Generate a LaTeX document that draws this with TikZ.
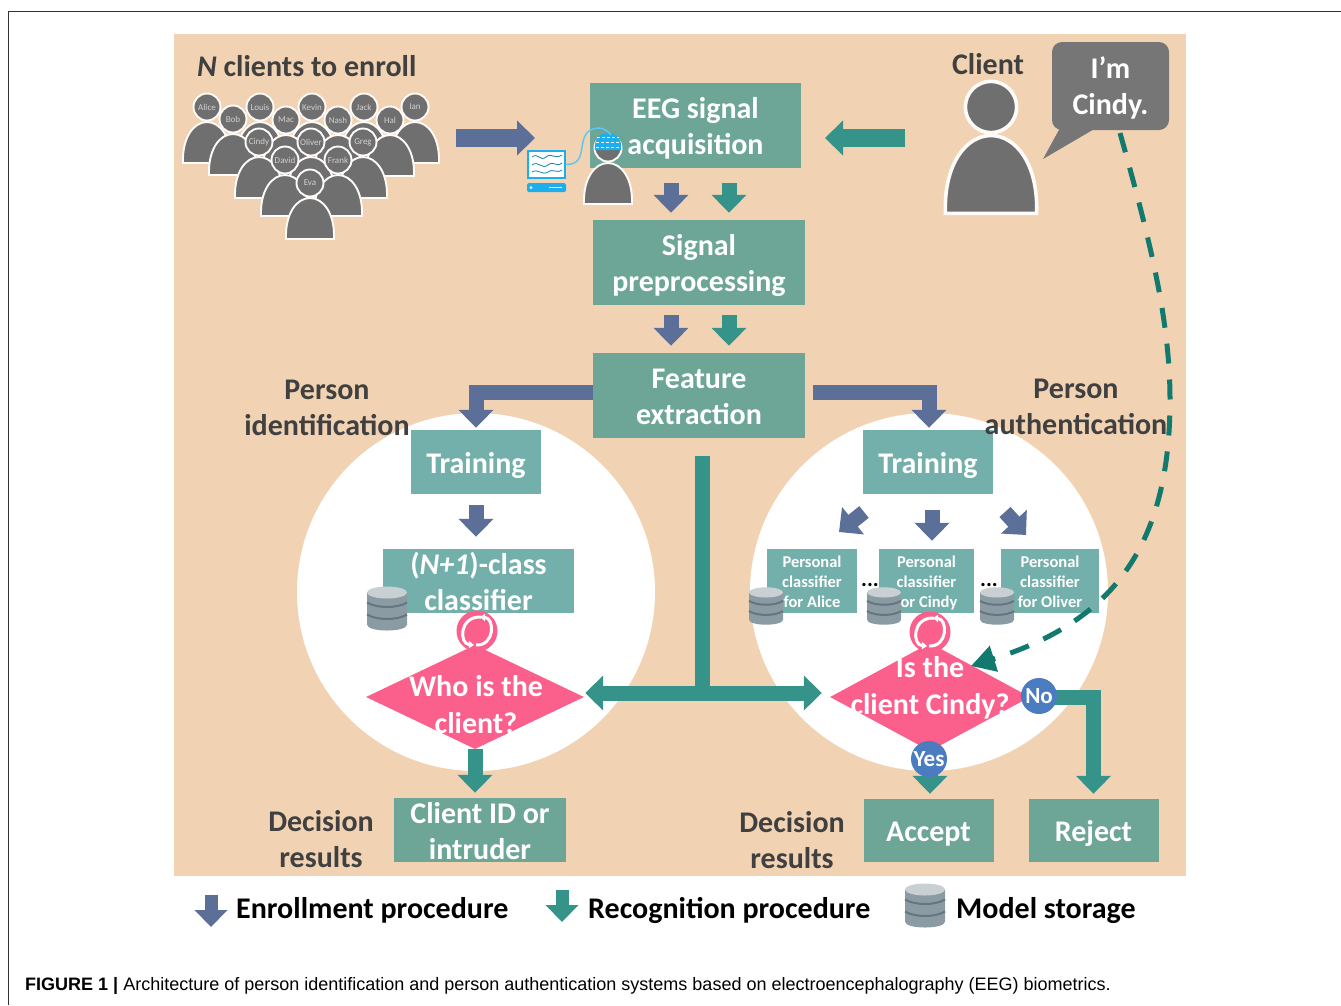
\documentclass[tikz,border=0pt]{standalone}
\usepackage{fontspec}
\usepackage{xcolor}
\setmainfont{Carlito}
\newfontfamily\capfont{Liberation Sans}
\usetikzlibrary{arrows.meta,shapes.geometric}

\definecolor{sandbg}{HTML}{F1D3B3}
\definecolor{upperbox}{HTML}{6DA697}
\definecolor{lowerbox}{HTML}{74B0AB}
\definecolor{enrollblue}{HTML}{5B6F99}
\definecolor{recogteal}{HTML}{35938A}
\definecolor{dashteal}{HTML}{12796E}
\definecolor{personfill}{HTML}{6F6F6F}
\definecolor{labelgray}{HTML}{404040}
\definecolor{decpink}{HTML}{FB5F8C}
\definecolor{dotblue}{HTML}{4A7CBF}
\definecolor{scrblue}{HTML}{1CAFEB}
\definecolor{dbbody}{HTML}{8A9BA3}
\definecolor{dbtop}{HTML}{C9D0D4}
\definecolor{dbband}{HTML}{66767E}

\tikzset{
  stepbox/.style={text=white,inner sep=0,align=center,font=\bfseries\fontsize{30}{36}\selectfont},
  oneline/.style={execute at begin node={\rule{0pt}{28pt}},execute at end node={\rule[-6pt]{0pt}{6pt}}},
  upperstep/.style={stepbox,fill=upperbox},
  lowerstep/.style={stepbox,fill=lowerbox},
  personalstep/.style={fill=lowerbox,text=white,inner sep=0,align=center,minimum width=90,minimum height=64,font=\bfseries\fontsize{16.5}{20}\selectfont},
  grouplabel/.style={text=labelgray,align=center,inner sep=0,font=\bfseries\fontsize{30}{36}\selectfont},
  decision/.style={diamond,fill=decpink,inner sep=0},
  decisiontext/.style={text=white,align=center,inner sep=0,font=\bfseries\fontsize{30}{37}\selectfont},
  answerdot/.style={circle,fill=dotblue,text=white,inner sep=0,minimum size=36,font=\bfseries\fontsize{23}{24}\selectfont},
  personbody/.style={fill=personfill,draw=white!92!sandbg},
  personhead/.style={circle,fill=personfill,draw=white!92!sandbg,inner sep=0,text=white!82!black,font=\fontsize{9}{9}\selectfont},
  enrollarrow/.style={draw=enrollblue,line width=15,-{Triangle[length=18pt,width=34pt]}},
  recogarrow/.style={draw=recogteal,line width=15,-{Triangle[length=18pt,width=34pt]}},
  legendtext/.style={text=black,inner sep=0,anchor=west,font=\bfseries\fontsize{30}{34}\selectfont}
}

\newcommand{\twolines}[2]{\rule{0pt}{28pt}#1\\#2\rule[-6pt]{0pt}{6pt}}
\newcommand{\threelines}[3]{\rule{0pt}{17pt}#1\\#2\\#3\rule[-4pt]{0pt}{4pt}}

\newcommand{\clientfig}[5]{%
\begin{scope}[shift={(#2,#3)},scale=#4]
\draw[personbody,line width=#4*1.9] (-24,56) .. controls (-25,30) and (-13,15) .. (0,15) .. controls (13,15) and (25,30) .. (24,56) -- cycle ;
\node[personhead,line width=#4*1.9,minimum size=#4*27] (#1) at (0,0) {#5};
\end{scope}}

\newcommand{\modelstore}[4]{%
\begin{scope}[shift={(#2,#3)},scale=#4]
\coordinate (#1) at (0,0);
\fill[dbbody] (-20,-16) -- (-20,16) .. controls (-20,24) and (20,24) .. (20,16) -- (20,-16) -- cycle ;
\draw[dbband,line width=2] (-20,-6) .. controls (-10,0) and (10,0) .. (20,-6) ;
\draw[dbband,line width=2] (-20,6) .. controls (-10,12) and (10,12) .. (20,6) ;
\fill[dbtop] (0,-16) ellipse [x radius=20,y radius=6] ;
\end{scope}}

\newcommand{\refreshloop}[3]{%
\node[circle,fill=decpink,inner sep=0,minimum size=41] (#1) at (#2,#3) {};
\begin{scope}[shift={(#2,#3)}]
\draw[white,line width=3,-{Triangle[length=5pt,width=7pt]}] (4,-14) .. controls (-18,-15) and (-18,13) .. (-3,14) ;
\draw[white,line width=3,-{Triangle[length=5pt,width=7pt]}] (-1,14) .. controls (18,15) and (18,-13) .. (3,-14) ;
\end{scope}}

\begin{document}
\begin{tikzpicture}[x=1pt,y=1pt,yscale=-1,xscale=1]

\useasboundingbox (0,0) rectangle (1341,1005);
\fill[white] (0,0) rectangle (1341,1005);
\draw[line width=1,black!80] (8,1005) -- (8,11) -- (1341,11) ;
\fill[sandbg] (174,34) rectangle (1186,876);
\fill[white] (476,592) circle [radius=179];
\fill[white] (929,592) circle [radius=179];

\node[grouplabel,anchor=west] (enrolltitle) at (197,66) {\textit{N} clients to enroll};
\clientfig{alice}{207}{107}{1}{Alice}
\clientfig{louis}{260}{107}{1}{Louis}
\clientfig{kevin}{312}{107}{1}{Kevin}
\clientfig{jack}{364}{107}{1}{Jack}
\clientfig{ian}{415}{107}{1}{Ian}
\clientfig{bob}{233}{119}{1}{Bob}
\clientfig{mac}{286}{120}{1}{Mac}
\clientfig{nash}{338}{120}{1}{Nash}
\clientfig{hal}{390}{120}{1}{Hal}
\clientfig{cindy}{259}{142}{1}{Cindy}
\clientfig{oliver}{311}{142}{1}{Oliver}
\clientfig{greg}{363}{142}{1}{Greg}
\clientfig{david}{285}{160}{1}{David}
\clientfig{frank}{338}{160}{1}{Frank}
\clientfig{eva}{310}{183}{1}{Eva}

\node[upperstep,minimum width=211,minimum height=85] (eegbox) at (695.5,125.5) {\twolines{EEG signal}{acquisition}};
\node[upperstep,minimum width=212,minimum height=85] (prepbox) at (699,262.5) {\twolines{Signal}{preprocessing}};
\node[upperstep,minimum width=212,minimum height=85] (featbox) at (699,395.5) {\twolines{Feature}{extraction}};
\node[lowerstep,oneline,minimum width=130,minimum height=64] (trainleft) at (476,462) {Training};
\node[lowerstep,oneline,minimum width=130,minimum height=64] (trainright) at (928,462) {Training};
\node[lowerstep,inner ysep=-3,minimum width=191,minimum height=64] (classleft) at (478.5,581) {\twolines{(\textit{N+1})-class}{classifier}};
\node[personalstep] (persalice) at (812,581) {\threelines{Personal}{classifier}{for Alice}};
\node[personalstep,minimum width=95] (perscindy) at (926.5,581) {\threelines{Personal}{classifier}{for Cindy}};
\node[personalstep,minimum width=98] (persoliver) at (1050,581) {\threelines{Personal}{classifier}{for Oliver}};
\node[upperstep,inner ysep=-3,minimum width=172,minimum height=64] (outleft) at (480,830) {\twolines{Client ID or}{intruder}};
\node[upperstep,oneline,minimum width=130,minimum height=63] (accept) at (928.5,830.5) {Accept};
\node[upperstep,oneline,minimum width=130,minimum height=63] (reject) at (1093.5,830.5) {Reject};

\node[grouplabel] (idlabel) at (327,408) {Person\\identification};
\node[grouplabel] (authlabel) at (1076,407) {Person\\authentication};
\node[grouplabel] (decleft) at (321,839) {Decision\\results};
\node[grouplabel] (decright) at (792,840) {Decision\\results};
\node[grouplabel] (clientlabel) at (988,64) {Client};

\clientfig{bigclient}{991}{107}{1.9}{}
\clientfig{capclient}{608}{148}{1}{}

\fill[scrblue] (595,150) .. controls (592,127) and (624,127) .. (621,150) -- cycle ;
\draw[white,line width=1,dash pattern=on 3pt off 2pt] (597,137) -- (619,137) ;
\draw[white,line width=1,dash pattern=on 3pt off 2pt] (596,142) -- (620,142) ;
\draw[white,line width=1,dash pattern=on 3pt off 2pt] (596,147) -- (620,147) ;

\node[draw=scrblue,fill=white,line width=2.5,minimum width=37,minimum height=27,inner sep=0] (screen) at (546.5,164.5) {};
\node[fill=scrblue,rounded corners=1.5,minimum width=39,minimum height=9,inner sep=0] (scrbase) at (546.5,187.5) {};
\fill[white] (531,187.5) circle [radius=1.5];
\draw[white,line width=1.2] (549,187.5) -- (562,187.5) ;
\draw[scrblue!75!black,line width=0.8] (532,157) .. controls (538,152) and (540,162) .. (546,157) .. controls (552,152) and (554,160) .. (562,155) ;
\draw[scrblue!75!black,line width=0.8] (532,165) .. controls (538,160) and (542,170) .. (548,165) .. controls (554,160) and (556,168) .. (562,163) ;
\draw[scrblue!75!black,line width=0.8] (532,172) .. controls (538,168) and (542,176) .. (548,172) .. controls (554,168) and (556,174) .. (562,170) ;
\draw[scrblue!70!white,line width=1.5] (screen.east) .. controls (592,165) and (572,130) .. (598,128) .. controls (604,128) and (608,131) .. (611,135) ;

\coordinate (crowdend) at (535,138);
\coordinate (crowdstart) at (456,138);
\coordinate (clientstart) at (905,138);
\coordinate (clientend) at (825,138);
\draw[enrollarrow,line width=18] (crowdstart) -- (crowdend) ;
\draw[recogarrow,line width=18] (clientstart) -- (clientend) ;

\draw[enrollarrow,shorten <=15,shorten >=7] ([xshift=-24.5]eegbox.south) -- ([xshift=-28]prepbox.north) ;
\draw[recogarrow,shorten <=15,shorten >=7] ([xshift=33.5]eegbox.south) -- ([xshift=30]prepbox.north) ;
\draw[enrollarrow,shorten <=10,shorten >=7] ([xshift=-28]prepbox.south) -- ([xshift=-28]featbox.north) ;
\draw[recogarrow,shorten <=10,shorten >=7] ([xshift=30]prepbox.south) -- ([xshift=30]featbox.north) ;

\draw[enrollarrow,shorten >=2] ([yshift=-3.5]featbox.west) -| (trainleft.north) ;
\draw[enrollarrow,shorten <=8,shorten >=2] ([yshift=-3.5]featbox.east) -| ([xshift=1]trainright.north) ;
\draw[enrollarrow,shorten <=11,shorten >=12] (trainleft.south) -- (trainleft.south |- classleft.north) ;

\coordinate (splitalice) at (864,512);
\coordinate (tipalice) at (839,532);
\coordinate (splitoliver) at (1005,512);
\coordinate (tipoliver) at (1026,535);
\draw[enrollarrow] (splitalice) -- (tipalice) ;
\draw[enrollarrow] (splitoliver) -- (tipoliver) ;
\draw[enrollarrow,shorten <=16,shorten >=8] ([xshift=4]trainright.south) -- ([xshift=4]trainright.south |- perscindy.north) ;

\node[decision,minimum width=218,minimum height=104] (whodec) at (475,697) {};
\node[decision,minimum width=200,minimum height=108] (isdec) at (930,697) {};
\refreshloop{loopleft}{477}{631}
\refreshloop{loopright}{930}{632}
\node[decisiontext] (whotext) at (476,705) {Who is the\\client?};
\node[decisiontext] (istext) at (930,687.5) {Is the\\client Cindy?};

\coordinate (teejoin) at (702,693);
\draw[recogarrow,-,shorten <=18] ([xshift=3]featbox.south) -- (teejoin) ;
\draw[recogarrow,shorten >=1] (teejoin) -- (whodec.east |- teejoin) ;
\draw[recogarrow,shorten >=8] (teejoin) -- (isdec.west |- teejoin) ;
\draw[recogarrow,shorten >=5] (whodec.south) -- (whodec.south |- outleft.north) ;
\draw[recogarrow,shorten >=5] (isdec.south) -- (isdec.south |- accept.north) ;
\draw[recogarrow,shorten >=5] (isdec.east) -| (reject.north) ;
\node[answerdot] (yesdot) at (929,759) {Yes};
\node[answerdot] (nodot) at (1039,696) {No};

\modelstore{dbleft}{387}{608.5}{1}
\modelstore{dbalice}{766}{606}{0.85}
\modelstore{dbcindy}{884}{606}{0.85}
\modelstore{dboliver}{997}{606}{0.85}
\node[inner sep=0,text=black,font=\bfseries\fontsize{22}{22}\selectfont] (dotsleft) at (870,585) {...};
\node[inner sep=0,text=black,font=\bfseries\fontsize{22}{22}\selectfont] (dotsright) at (989,585) {...};

\fill[personfill!95!white,rounded corners=10] (1052,42) rectangle (1169,130);
\node[inner sep=0,text=white,align=center,font=\bfseries\fontsize{30}{36}\selectfont] (bubble) at (1110.5,88) {I'm\\Cindy.};
\fill[personfill!95!white] (1043,159) -- (1060,128) -- (1096,128) -- cycle ;
\coordinate (bubbletail) at (1120,133);
\coordinate (dashend) at (971,666);
\draw[dashteal,line width=5,dash pattern=on 20pt off 16pt,-{Triangle[length=24pt,width=26pt]}] (bubbletail) .. controls (1150,240) and (1170,320) .. (1170,400) .. controls (1170,560) and (1100,625) .. (dashend) ;

\coordinate (legendenroll) at (211,895);
\coordinate (legendenrollend) at (211,927);
\coordinate (legendrecog) at (562,890);
\coordinate (legendrecogend) at (562,922);
\draw[enrollarrow,line width=13,-{Triangle[length=17pt,width=32pt]}] (legendenroll) -- (legendenrollend) ;
\draw[recogarrow,line width=13,-{Triangle[length=17pt,width=32pt]}] (legendrecog) -- (legendrecogend) ;
\node[legendtext] (enrolllegend) at (236,910) {Enrollment procedure};
\node[legendtext] (recoglegend) at (588,910) {Recognition procedure};
\modelstore{dblegend}{925}{905.5}{1}
\node[legendtext] (storelegend) at (956,910) {Model storage};

\node[anchor=west,inner sep=0,font=\capfont\fontsize{18}{22}\selectfont] (caption) at (25,986) {\textbf{FIGURE 1 |} Architecture of person identification and person authentication systems based on electroencephalography (EEG) biometrics.};

\end{tikzpicture}
\end{document}
